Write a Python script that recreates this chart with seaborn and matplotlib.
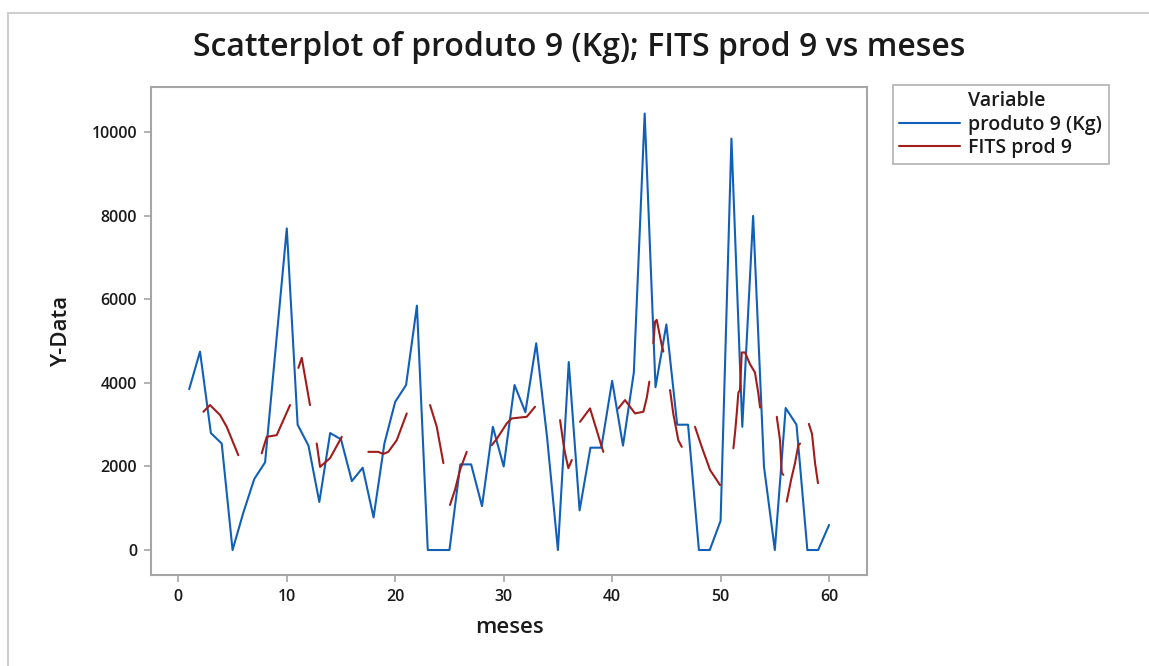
import numpy as np
import pandas as pd
import matplotlib
matplotlib.use("Agg")
import matplotlib.pyplot as plt
from matplotlib.lines import Line2D
from matplotlib.patches import Rectangle
import seaborn as sns

# ---- data ----
meses = list(range(1, 61))
produto_9 = [3850, 4750, 2800, 2550, 0, 900, 1700, 2100, 4900, 7700,
             3000, 2500, 1150, 2800, 2650, 1650, 1970, 780, 2550, 3550,
             3950, 5850, 0, 0, 0, 2050, 2050, 1050, 2950, 2000,
             3950, 3300, 4950, 2700, 0, 4500, 950, 2450, 2450, 4050,
             2500, 4250, 10450, 3900, 5400, 3000, 3000, 0, 0, 700,
             9850, 2950, 8000, 2000, 0, 3400, 3000, 0, 0, 600]

# FITS prod 9: broken line, one list per segment
fits_meses = [
    [2.31, 2.92, 3.85, 4.46, 5.53],
    [7.69, 8.15, 9.07, 10.30],
    [11.07, 11.38, 12.14],
    [12.76, 13.07, 13.99, 15.07],
    [17.52, 18.44, 18.90, 19.36, 20.14, 21.06],
    [23.21, 23.83, 24.44],
    [25.05, 25.51, 25.97, 26.59],
    [28.90, 29.36, 30.28, 30.74, 32.13, 32.89],
    [35.20, 35.50, 35.66, 35.96, 36.28],
    [37.04, 37.96, 39.04, 39.19],
    [40.57, 41.19, 42.11, 42.88, 43.19, 43.43],
    [43.80, 43.96, 44.11, 44.57, 44.72],
    [45.34, 45.64, 46.10, 46.42],
    [47.64, 48.26, 49.03, 49.95],
    [51.18, 51.33, 51.49, 51.64, 51.79, 51.95, 52.25, 52.71, 53.17, 53.48, 53.64],
    [55.18, 55.48, 55.64, 55.79],
    [56.10, 56.50, 56.86, 57.17, 57.33],
    [58.14, 58.43, 58.71, 58.98],
]
fits_valores = [
    [3310, 3470, 3230, 2950, 2270],
    [2315, 2710, 2750, 3470],
    [4360, 4600, 3470],
    [2550, 1990, 2200, 2710],
    [2350, 2350, 2300, 2350, 2630, 3270],
    [3470, 2950, 2080],
    [1080, 1440, 1915, 2350],
    [2510, 2660, 3030, 3150, 3190, 3430],
    [3110, 2560, 2320, 1960, 2155],
    [3070, 3390, 2470, 2350],
    [3390, 3590, 3270, 3310, 3640, 4030],
    [4950, 5470, 5510, 4910, 4750],
    [3830, 3260, 2630, 2470],
    [2950, 2470, 1915, 1556],
    [2435, 2800, 3270, 3770, 3830, 4730, 4730, 4450, 4250, 3750, 3410],
    [3190, 2630, 1840, 1800],
    [1160, 1680, 2080, 2510, 2550],
    [3020, 2780, 2080, 1600],
]

x_ticks = [0, 10, 20, 30, 40, 50, 60]
y_ticks = [0, 2000, 4000, 6000, 8000, 10000]

titulo = "Scatterplot of produto 9 (Kg); FITS prod 9 vs meses"
serie_1 = "produto 9 (Kg)"
serie_2 = "FITS prod 9"

# ---- build tables ----
df_prod = pd.DataFrame({"meses": meses, "valor": produto_9})
rows = []
for i, (xs, ys) in enumerate(zip(fits_meses, fits_valores)):
    for x, y in zip(xs, ys):
        rows.append({"meses": x, "valor": y, "segmento": i})
df_fits = pd.DataFrame(rows)

# ---- style ----
sns.set_theme(style="white")
plt.rcParams["font.family"] = ["Open Sans", "DejaVu Sans"]

blue = "#1160b8"
red = "#a21c1c"
gray = "#a6a6a6"
txt = "#1a1a1a"

fig = plt.figure(figsize=(11.49, 6.66), dpi=100)
ax = fig.add_axes([151 / 1149, 1 - 575 / 666, (867 - 151) / 1149, (575 - 87) / 666])

sns.lineplot(data=df_prod, x="meses", y="valor", ax=ax, color=blue,
             linewidth=1.5, estimator=None, sort=False)
sns.lineplot(data=df_fits, x="meses", y="valor", units="segmento", ax=ax,
             color=red, linewidth=1.5, estimator=None, sort=False)

ax.set_xlim(-2.52, 63.5)
ax.set_ylim(-598, 11085)
ax.set_xticks(x_ticks)
ax.set_yticks(y_ticks)
ax.set_xticklabels([str(t) for t in x_ticks], fontsize=11.5, fontweight="semibold", color=txt)
ax.set_yticklabels([str(t) for t in y_ticks], fontsize=11.5, fontweight="semibold", color=txt)
ax.tick_params(axis="both", which="major", length=5, width=1.2, color=gray,
               direction="out", pad=5, bottom=True, left=True)
for s in ax.spines.values():
    s.set_color(gray)
    s.set_linewidth(1.5)
    s.set_visible(True)

ax.set_xlabel("meses", fontsize=16, fontweight="semibold", labelpad=9, color=txt)
ax.set_ylabel("Y-Data", fontsize=16, fontweight="semibold", labelpad=14, color=txt)

fig.text(579 / 1149, 1 - 48 / 666, titulo, ha="center", va="center",
         fontsize=23, fontweight="semibold", color=txt)

# legend
handles = [Line2D([], [], color="none"),
           Line2D([], [], color=blue, linewidth=1.5),
           Line2D([], [], color=red, linewidth=1.5)]
labels = ["Variable", serie_1, serie_2]
leg = fig.legend(handles, labels, loc="upper left",
                 bbox_to_anchor=(893 / 1149, 1 - 85 / 666),
                 frameon=True, fontsize=14, handlelength=3.1, handletextpad=0.45,
                 borderpad=0.33, labelspacing=0.17, borderaxespad=0)
leg.get_frame().set_edgecolor(gray)
leg.get_frame().set_linewidth(1.3)
leg.get_frame().set_boxstyle("square", pad=0)
for t in leg.get_texts():
    t.set_fontweight("semibold")
    t.set_color(txt)

# outer graph border
fig.patches.append(Rectangle((8 / 1149, -0.02), 1.02, 1 - 13 / 666 + 0.02,
                             transform=fig.transFigure, fill=False,
                             edgecolor="#cfcfcf", linewidth=1.5))

fig.savefig("out.png", dpi=100)
